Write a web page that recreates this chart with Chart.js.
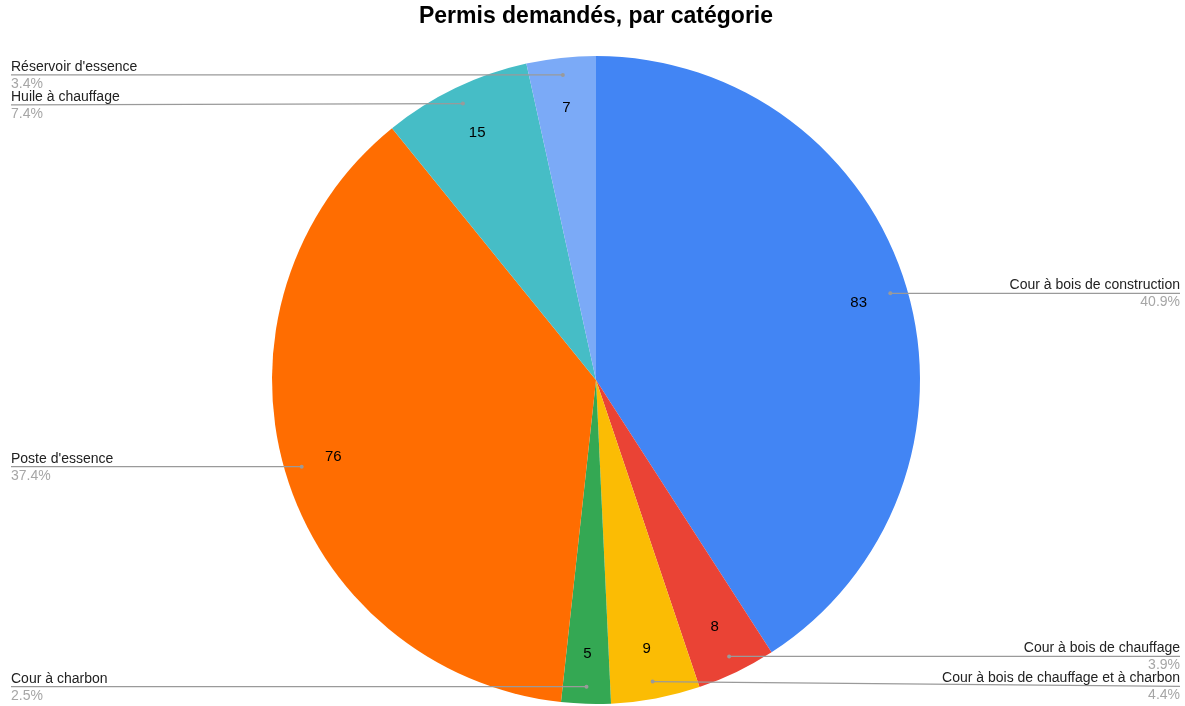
<!DOCTYPE html>
<html>
<head>
<meta charset="utf-8">
<script src="https://cdn.jsdelivr.net/npm/chart.js@4/dist/chart.umd.min.js"></script>
<style>
  html, body { margin: 0; padding: 0; background: #fff; }
  #wrap { width: 1185px; height: 706px; position: relative; }
</style>
</head>
<body>
<div id="wrap"><canvas id="pie"></canvas></div>
<script>
const categories = [
  'Cour à bois de construction',
  'Cour à bois de chauffage',
  'Cour à bois de chauffage et à charbon',
  'Cour à charbon',
  "Poste d'essence",
  'Huile à chauffage',
  "Réservoir d'essence"
];
const permits = [83, 8, 9, 5, 76, 15, 7];
const sliceColors = ['#4285f4', '#ea4335', '#fbbc04', '#34a853', '#ff6d01', '#46bdc6', '#7baaf7'];
const chartTitle = 'Permis demandés, par catégorie';

const FONT = '"Liberation Sans", Arial, sans-serif';

// labels + leader lines, roughly like the google sheets pie
const pieLabels = {
  id: 'pieLabels',
  afterDraw(chart) {
    const ctx = chart.ctx;
    const arcs = chart.getDatasetMeta(0).data;
    const total = permits.reduce((s, v) => s + v, 0);
    const W = chart.width;

    // title
    ctx.save();
    ctx.font = 'bold 23px ' + FONT;
    ctx.fillStyle = '#000';
    ctx.textAlign = 'center';
    ctx.textBaseline = 'middle';
    ctx.fillText(chartTitle, 596, 17);
    ctx.restore();

    const left = [], right = [];
    arcs.forEach((arc, i) => {
      const p = arc.getProps(['x', 'y', 'startAngle', 'endAngle', 'outerRadius']);
      const mid = (p.startAngle + p.endAngle) / 2;
      const r = p.outerRadius;

      // value inside slice
      ctx.save();
      ctx.font = '15px ' + FONT;
      ctx.fillStyle = '#000';
      ctx.textAlign = 'center';
      ctx.textBaseline = 'middle';
      ctx.fillText(String(permits[i]), p.x + Math.cos(mid) * r * 0.845, p.y + Math.sin(mid) * r * 0.845);
      ctx.restore();

      const dx = p.x + Math.cos(mid) * r * 0.947;
      const dy = p.y + Math.sin(mid) * r * 0.947;
      const item = { i, dx, dy, ly: dy, pct: (permits[i] / total * 100).toFixed(1) + '%' };
      (Math.cos(mid) >= 0 ? right : left).push(item);
    });

    // keep labels apart
    [left, right].forEach(side => {
      side.sort((a, b) => a.dy - b.dy);
      for (let k = 1; k < side.length; k++) {
        if (side[k].ly - side[k - 1].ly < 30) side[k].ly = side[k - 1].ly + 30;
      }
    });

    const drawOne = (it, isRight) => {
      const endX = isRight ? W - 5 : 11;
      ctx.save();
      ctx.strokeStyle = '#9a9a9a';
      ctx.lineWidth = 1.3;
      ctx.beginPath();
      ctx.moveTo(it.dx, it.dy);
      ctx.lineTo(endX, it.ly);
      ctx.stroke();
      ctx.fillStyle = '#9a9a9a';
      ctx.beginPath();
      ctx.arc(it.dx, it.dy, 2, 0, Math.PI * 2);
      ctx.fill();

      ctx.font = '14px ' + FONT;
      ctx.textAlign = isRight ? 'right' : 'left';
      ctx.textBaseline = 'alphabetic';
      ctx.fillStyle = '#222';
      ctx.fillText(categories[it.i], endX, it.ly - 4);
      ctx.fillStyle = '#a6a6a6';
      ctx.textBaseline = 'top';
      ctx.fillText(it.pct, endX, it.ly + 2);
      ctx.restore();
    };
    left.forEach(it => drawOne(it, false));
    right.forEach(it => drawOne(it, true));
  }
};

new Chart(document.getElementById('pie').getContext('2d'), {
  type: 'pie',
  data: {
    labels: categories,
    datasets: [{
      data: permits,
      backgroundColor: sliceColors,
      borderWidth: 0
    }]
  },
  options: {
    responsive: true,
    maintainAspectRatio: false,
    animation: false,
    layout: { padding: { top: 56, bottom: 2, left: 272, right: 265 } },
    plugins: {
      legend: { display: false },
      tooltip: { enabled: false },
      title: { display: false }
    }
  },
  plugins: [pieLabels]
});
</script>
</body>
</html>
